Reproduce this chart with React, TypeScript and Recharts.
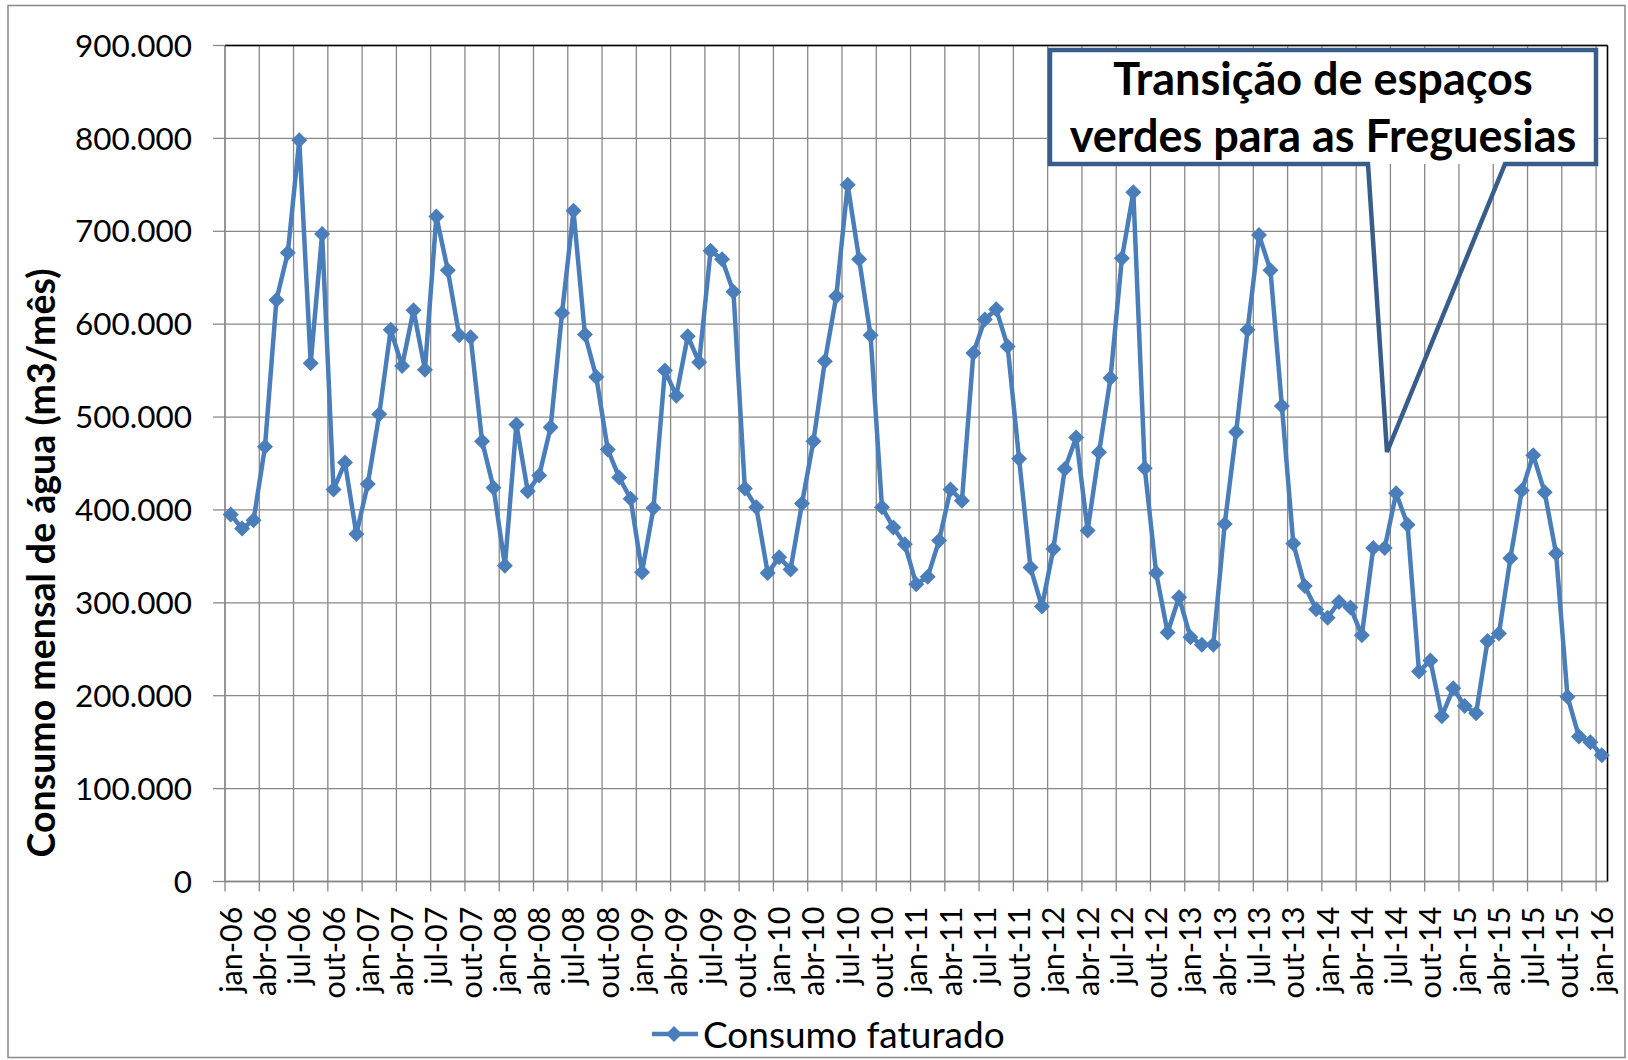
import React from "react"
import { LineChart, Line, XAxis, YAxis, CartesianGrid, Legend, ReferenceLine } from "recharts"

// consumo faturado, milhares de m3 por mês
const consumo2006 = [395, 380, 389, 468, 626, 677, 798, 558, 697, 422, 451, 374]
const consumo2007 = [428, 503, 594, 555, 615, 551, 716, 658, 588, 586, 474, 424]
const consumo2008 = [340, 492, 420, 437, 489, 612, 722, 589, 543, 465, 435, 412]
const consumo2009 = [333, 402, 550, 523, 587, 559, 679, 670, 635, 423, 403, 332]
const consumo2010 = [349, 336, 407, 474, 560, 630, 750, 670, 588, 403, 381, 363]
const consumo2011 = [320, 328, 367, 422, 410, 569, 605, 616, 576, 455, 338, 296]
const consumo2012 = [358, 444, 478, 378, 462, 542, 671, 742, 445, 332, 268, 306]
const consumo2013 = [263, 255, 255, 385, 484, 594, 696, 658, 512, 364, 318, 293]
const consumo2014 = [284, 301, 295, 265, 359, 359, 418, 384, 226, 238, 178, 208]
const consumo2015 = [189, 181, 259, 267, 348, 421, 459, 419, 353, 199, 156, 150]
const consumo2016 = [136]

const tickLabels = [
  "jan-06", "abr-06", "jul-06", "out-06",
  "jan-07", "abr-07", "jul-07", "out-07",
  "jan-08", "abr-08", "jul-08", "out-08",
  "jan-09", "abr-09", "jul-09", "out-09",
  "jan-10", "abr-10", "jul-10", "out-10",
  "jan-11", "abr-11", "jul-11", "out-11",
  "jan-12", "abr-12", "jul-12", "out-12",
  "jan-13", "abr-13", "jul-13", "out-13",
  "jan-14", "abr-14", "jul-14", "out-14",
  "jan-15", "abr-15", "jul-15", "out-15",
  "jan-16",
]

const yTicks = [0, 100, 200, 300, 400, 500, 600, 700, 800, 900]

const consumo = [
  ...consumo2006, ...consumo2007, ...consumo2008, ...consumo2009, ...consumo2010, ...consumo2011,
  ...consumo2012, ...consumo2013, ...consumo2014, ...consumo2015, ...consumo2016,
]

// each month is a band, the point sits in its middle
const data = consumo.map((value, i) => ({ pos: i + 0.5, value }))
const xTicks = tickLabels.map((_, k) => k * 3)

const BLUE = "#4A7EBB"
const GRID = "#888888"
const FONT = "Lato, 'Open Sans', sans-serif"

const PLOT_LEFT = 225
const PLOT_RIGHT = 1607.5
const HALF_MONTH = (PLOT_RIGHT - PLOT_LEFT) / consumo.length / 2

function Diamond(props: any) {
  const { cx, cy } = props
  if (cx == null || cy == null) return null
  const r = 8
  return <path d={`M${cx} ${cy - r}L${cx + r} ${cy}L${cx} ${cy + r}L${cx - r} ${cy}Z`} fill={BLUE} />
}

function MonthTick(props: any) {
  const { x, y, payload } = props
  const label = tickLabels[Math.round(payload.value / 3)]
  return (
    <g transform={`translate(${x + HALF_MONTH},${y})`}>
      <text transform="rotate(-90)" textAnchor="end" dy="0.36em" fontFamily={FONT} fontSize={30.5} fill="#000">
        {label}
      </text>
    </g>
  )
}

function LegendBox() {
  return (
    <div
      style={{
        height: 50,
        boxSizing: "border-box",
        paddingTop: 14,
        paddingLeft: 643,
        display: "flex",
        alignItems: "center",
        fontFamily: FONT,
        fontSize: 37,
        color: "#000",
      }}
    >
      <svg width={48} height={18} style={{ marginRight: 4 }}>
        <line x1={1} y1={9} x2={47} y2={9} stroke={BLUE} strokeWidth={4.5} />
        <path d="M23 1L31 9L23 17L15 9Z" fill={BLUE} />
      </svg>
      <span>Consumo faturado</span>
    </div>
  )
}

function YTitle() {
  return (
    <text
      x={41}
      y={563}
      transform="rotate(-90 41 563)"
      textAnchor="middle"
      dy="0.36em"
      fontFamily={FONT}
      fontWeight="bold"
      fontSize={37.5}
      fill="#000"
    >
      Consumo mensal de água (m3/mês)
    </text>
  )
}

export default function App() {
  return (
    <div style={{ position: "absolute", left: 0, top: 0, width: 1628, height: 1060, background: "#fff" }}>
      <LineChart
        width={1628}
        height={1060}
        data={data}
        margin={{ top: 45.5, right: 20.5, bottom: 8.5, left: 8 }}
      >
        <CartesianGrid stroke={GRID} strokeWidth={1.3} />
        <XAxis
          type="number"
          dataKey="pos"
          domain={[0, consumo.length]}
          ticks={xTicks}
          interval={0}
          height={120}
          tickSize={10}
          tickMargin={15}
          stroke={GRID}
          strokeWidth={1.3}
          tick={<MonthTick />}
        />
        <YAxis
          domain={[0, 900]}
          ticks={yTicks}
          interval={0}
          width={217}
          tickSize={12}
          tickMargin={21}
          stroke={GRID}
          strokeWidth={1.3}
          tick={{ fill: "#000", fontSize: 31.5, fontFamily: FONT }}
          tickFormatter={(v: number) => (v === 0 ? "0" : `${v}.000`)}
          label={{ content: () => <YTitle /> }}
        />
        <ReferenceLine y={900} stroke="#000" strokeWidth={1.5} />
        <ReferenceLine x={consumo.length} stroke="#000" strokeWidth={1.5} />
        <Legend verticalAlign="bottom" height={50} content={() => <LegendBox />} />
        <Line
          type="linear"
          dataKey="value"
          name="Consumo faturado"
          stroke={BLUE}
          strokeWidth={4.5}
          strokeLinejoin="round"
          dot={<Diamond />}
          activeDot={false}
          isAnimationActive={false}
        />
      </LineChart>
      <svg
        width={1628}
        height={1060}
        style={{ position: "absolute", left: 0, top: 0, pointerEvents: "none" }}
      >
        <rect x={8} y={5.5} width={1617} height={1052} fill="none" stroke={GRID} strokeWidth={1.5} />
        <rect x={1050} y={50} width={546} height={114} fill="#fff" />
        <path
          d="M1368 164 L1050 164 L1050 50 L1596 50 L1596 164 L1505 164 L1387 452 Z"
          fill="none"
          stroke="#385D8A"
          strokeWidth={4.5}
          strokeLinejoin="miter"
        />
        <text x={1323} y={95} textAnchor="middle" fontFamily={FONT} fontWeight="bold" fontSize={45} fill="#000">
          Transição de espaços
        </text>
        <text x={1323} y={152} textAnchor="middle" fontFamily={FONT} fontWeight="bold" fontSize={45} fill="#000">
          verdes para as Freguesias
        </text>
      </svg>
    </div>
  )
}
